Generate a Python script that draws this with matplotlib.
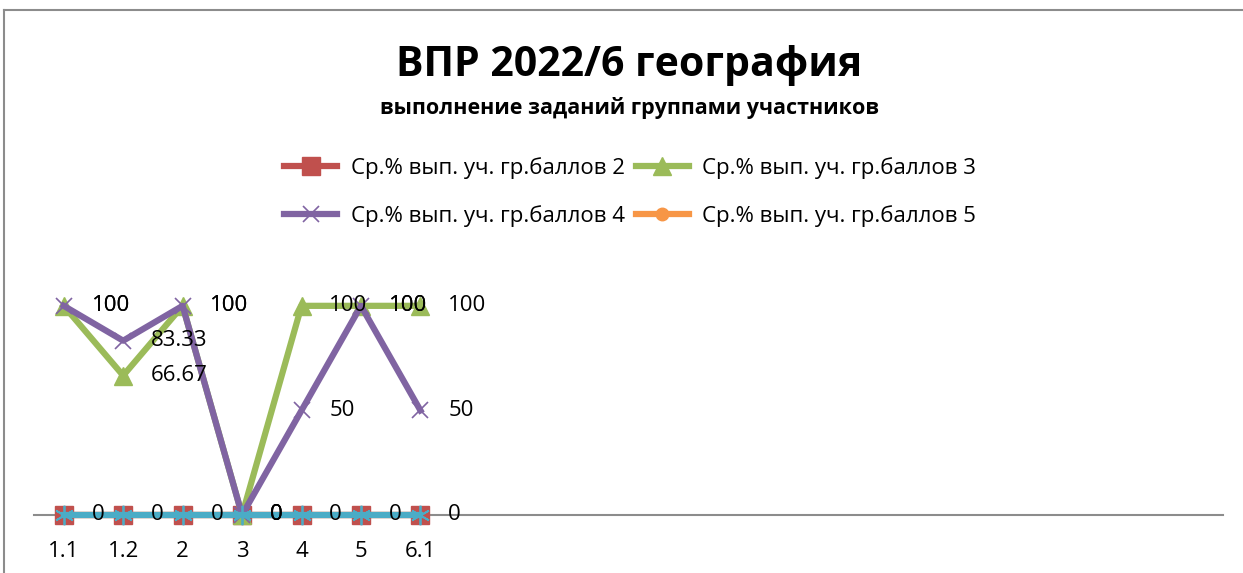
import matplotlib.pyplot as plt
from matplotlib.lines import Line2D

plt.rcParams['font.family'] = ['Open Sans', 'DejaVu Sans']

# task labels (the axis has 20 slots, only the first 7 are filled)
tasks = ['1.1', '1.2', '2', '3', '4', '5', '6.1']
n_slots = 20

grade2 = [0, 0, 0, 0, 0, 0, 0]
grade3 = [100, 66.67, 100, 0, 100, 100, 100]
grade4 = [100, 83.33, 100, 0, 50, 100, 50]
grade5 = [0, 0, 0, 0, 0, 0, 0]
grade_other = [0, 0, 0, 0, 0, 0, 0]

labels = ['Ср.% вып. уч. гр.баллов 2', 'Ср.% вып. уч. гр.баллов 3',
          'Ср.% вып. уч. гр.баллов 4', 'Ср.% вып. уч. гр.баллов 5']

RED = '#C0504D'
GREEN = '#9BBB59'
PURPLE = '#8064A2'
ORANGE = '#F79646'
TEAL = '#4BACC6'

fig = plt.figure(figsize=(12.43, 5.73), dpi=100)
W, H = 1243, 573

# chart frame (top and left edge visible)
fig.add_artist(Line2D([4 / W, 1.0], [1 - 10 / H, 1 - 10 / H], color='#8c8c8c', lw=1.5))
fig.add_artist(Line2D([4 / W, 4 / W], [0, 1 - 10 / H], color='#8c8c8c', lw=1.5))

ax = fig.add_axes([34 / W, (H - 515) / H, (1223 - 34) / W, 251 / H])
x = [i + 0.5 for i in range(len(tasks))]

series = [
    (grade2, RED, 's', 13, labels[0], 3),
    (grade3, GREEN, '^', 13, labels[1], 3),
    (grade4, PURPLE, 'x', 12, labels[2], 3),
    (grade5, ORANGE, 'o', 9, labels[3], 2),
]
handles = []
for vals, col, mk, ms, lab, z in series:
    h, = ax.plot(x, vals, color=col, lw=4.5, marker=mk, ms=ms, mec=col, mfc=col,
                 mew=1.2 if mk == 'x' else 1, label=lab, clip_on=False, zorder=z)
    handles.append(h)
ax.plot(x, grade_other, color=TEAL, lw=4.5, marker=(6, 2, 0), ms=14, mec=TEAL,
        mew=1.3, clip_on=False, zorder=4)

# data labels to the right of points
for vals in (grade2, grade3, grade4):
    for xi, v in zip(x, vals):
        ax.annotate(f'{v:g}', (xi, v), xytext=(20, 0), textcoords='offset points',
                    ha='left', va='center', fontsize=16, color='black', zorder=5)

ax.set_xlim(0, n_slots)
ax.set_ylim(0, 120)
ax.set_xticks(x)
ax.set_xticklabels(tasks, fontsize=16)
ax.tick_params(axis='x', length=0, pad=19)
ax.set_yticks([])
for s in ('top', 'right', 'left'):
    ax.spines[s].set_visible(False)
ax.spines['bottom'].set_color('#8c8c8c')
ax.spines['bottom'].set_linewidth(1.5)

fig.text(629 / W, 1 - 65 / H, 'ВПР 2022/6 география', ha='center', va='center',
         fontsize=29.5, fontweight='bold')
fig.text(629 / W, 1 - 108 / H, 'выполнение заданий группами участников',
         ha='center', va='center', fontsize=15.5, fontweight='bold')

# row-major order as in the original legend
order = [0, 2, 1, 3]
fig.legend([handles[i] for i in order], [labels[i] for i in order], ncol=2,
           loc='center', bbox_to_anchor=(630 / W, 1 - 192 / H),
           frameon=False, fontsize=16, handlelength=2.4, columnspacing=0.5,
           labelspacing=1.15, handletextpad=0.6)

fig.savefig('out.png', dpi=100)
